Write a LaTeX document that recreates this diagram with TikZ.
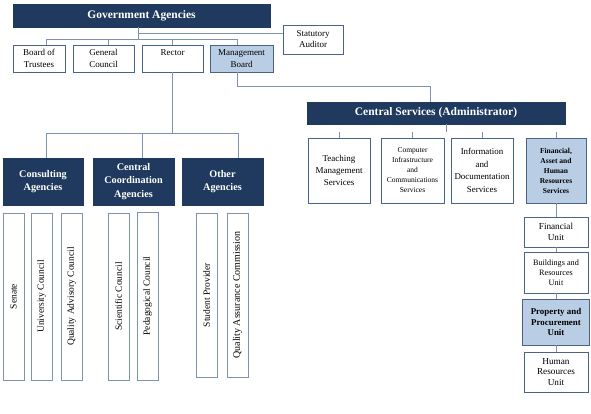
\documentclass[tikz,border=0pt]{standalone}
\usepackage{fontspec}
\usetikzlibrary{calc}
\setmainfont{Liberation Serif}
\definecolor{navy}{HTML}{203A5F}
\definecolor{lightblue}{HTML}{B9CDE5}
\definecolor{boxline}{HTML}{4A6488}
\definecolor{connline}{HTML}{7F93B0}
\begin{document}
\begin{tikzpicture}[x=1pt,y=-1pt,
  base/.style={rectangle, draw=boxline, line width=0.9pt, inner sep=1pt, align=center, text=black},
  wbox/.style={base, fill=white},
  lbox/.style={base, fill=lightblue},
  dbox/.style={rectangle, fill=navy, draw=navy, text=white, align=center, inner sep=1pt, font=\bfseries},
  vbox/.style={base, fill=white, rotate=90, draw=boxline!70, font=\fontsize{9.5}{10}\selectfont},
  conn/.style={draw=connline, line width=0.8pt},
  smallfont/.style={font=\fontsize{9}{12.5}\selectfont},
  agfont/.style={font=\bfseries\fontsize{10.2}{13.5}\selectfont}
]
\useasboundingbox (0,0) rectangle (591,413);
\fill[white] (0,0) rectangle (591,413);

% top level
\node[dbox, minimum width=257, minimum height=23, font=\bfseries\fontsize{11.5}{13}\selectfont] (gov) at (141.5,15.5) {Government Agencies};
\node[wbox, minimum width=60, minimum height=29, font=\fontsize{9}{11}\selectfont] (aud) at (313,39.5) {Statutory\\Auditor};

\node[wbox, minimum width=52, minimum height=27, smallfont] (bot) at (39,58.5) {Board of\\Trustees};
\node[wbox, minimum width=61, minimum height=27, smallfont] (gc) at (103.5,58.5) {General\\Council};
\node[wbox, minimum width=61, minimum height=27, smallfont] (rec) at (172.5,58.5) {Rector\\\mbox{}};
\node[lbox, minimum width=63, minimum height=27, smallfont] (mb) at (241.5,58.5) {Management\\Board};

% agencies
\node[dbox, minimum width=80, minimum height=47, agfont] (ca) at (43,181.5) {Consulting\\Agencies};
\node[dbox, minimum width=81, minimum height=47, agfont] (cca) at (133.5,181.5) {Central\\Coordination\\Agencies};
\node[dbox, minimum width=81, minimum height=47, agfont] (oa) at (222.5,181.5) {Other\\Agencies};

% vertical boxes
\node[vbox, minimum width=167, minimum height=21] (sen) at (13.5,296.5) {Senate};
\node[vbox, minimum width=167, minimum height=21] (uc) at (41.5,296.5) {University Council};
\node[vbox, minimum width=167, minimum height=21] (qac) at (71.5,296.5) {Quality Advisory Council};
\node[vbox, minimum width=167, minimum height=21] (sc) at (118.5,296.5) {Scientific Council};
\node[vbox, minimum width=168, minimum height=21] (pc) at (147.5,296) {Pedagogical Council};
\node[vbox, minimum width=164, minimum height=21] (sp) at (206.5,295) {Student Provider};
\node[vbox, minimum width=164, minimum height=21, font=\fontsize{10}{10}\selectfont] (qa) at (237.5,295) {Quality Assurance Commission};

% central services
\node[dbox, minimum width=258, minimum height=22, font=\bfseries\fontsize{11.5}{13}\selectfont] (cs) at (436,113) {Central Services (Administrator)};
\node[wbox, minimum width=62, minimum height=65, font=\fontsize{9}{12}\selectfont] (tms) at (339,170.5) {Teaching\\Management\\Services};
\node[wbox, minimum width=63, minimum height=65, font=\fontsize{7.5}{10}\selectfont] (cic) at (412.5,170.5) {Computer\\Infrastructure\\and\\Communications\\Services};
\node[wbox, minimum width=62, minimum height=65, font=\fontsize{8.9}{12.5}\selectfont] (ids) at (482,170.5) {Information\\and\\Documentation\\Services};
\node[lbox, minimum width=60, minimum height=65, font=\bfseries\fontsize{7.5}{10}\selectfont] (far) at (556,170.5) {Financial,\\Asset and\\Human\\Resources\\Services};

% right column
\node[wbox, minimum width=64, minimum height=30, font=\fontsize{9.2}{11}\selectfont] (fu) at (556,232) {Financial\\Unit};
\node[wbox, minimum width=64, minimum height=41, font=\fontsize{8.2}{10}\selectfont] (bru) at (556,272.5) {Buildings and\\Resources\\Unit};
\node[lbox, minimum width=67, minimum height=46, font=\bfseries\fontsize{8.9}{10.5}\selectfont] (ppu) at (556,322) {Property and\\Procurement\\Unit};
\node[wbox, minimum width=64, minimum height=40, font=\fontsize{9.2}{10.5}\selectfont] (hru) at (556,372) {Human\\Resources\\Unit};

% connectors: top
\coordinate (gs) at ($(gov.south)+(-3.5,0)$);
\coordinate (ja) at ($(gs)+(0,6)$);
\coordinate (jb) at ($(gs)+(0,12)$);
\coordinate (bn) at ($(bot.north)+(7,0)$);
\coordinate (gn) at ($(gc.north)+(4.5,0)$);
\coordinate (mn) at ($(mb.north)+(-4.5,0)$);
\coordinate (ms) at ($(mb.south)+(-4.5,0)$);
\draw[conn] (gs) -- (jb);
\draw[conn] (ja) -- (aud.west |- ja);
\draw[conn] (bn) -- (bn |- jb) -- (mn |- jb) -- (mn);
\draw[conn] (gn) -- (gn |- jb);
\draw[conn] (rec.north) -- (rec.north |- jb);

% rector to agencies
\coordinate (jr) at ($(rec.south)+(0,61)$);
\coordinate (can) at ($(ca.north)+(3,0)$);
\coordinate (ccn) at ($(cca.north)+(8.5,0)$);
\coordinate (oan) at ($(oa.north)+(15.5,0)$);
\draw[conn] (rec.south) -- (jr);
\draw[conn] (can) -- (can |- jr) -- (oan |- jr) -- (oan);
\draw[conn] (ccn) -- (ccn |- jr);

% management board to central services
\coordinate (csn) at ($(cs.north)+(-6,0)$);
\draw[conn] (ms) -- ++(0,14) -| (csn);

% central services stubs
\draw[conn] ($(cs.south)+(10,0)$) -- ++(0,8);
\draw[conn] (tms.north) -- ++(0,-6);
\draw[conn] (cic.north) -- ++(0,-6);
\draw[conn] (ids.north) -- ++(0,-6);
\draw[conn] (far.north) -- ++(0,-6);

% right column connectors
\draw[conn] (far.south) -- (fu.north);
\draw[conn] (fu.south) -- (bru.north);
\draw[conn] (bru.south) -- (ppu.north);
\draw[conn] (ppu.south) -- (hru.north);
\end{tikzpicture}
\end{document}
